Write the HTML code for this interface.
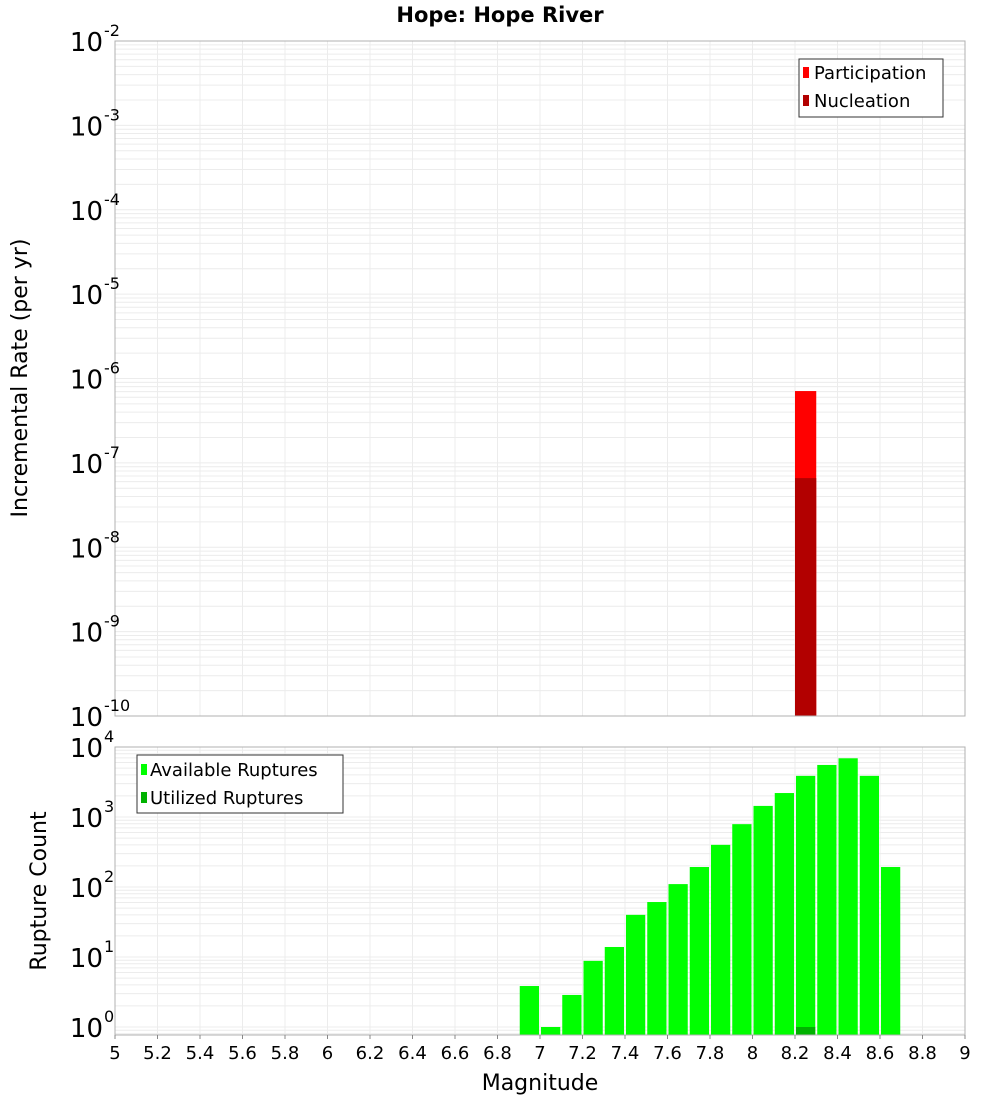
<!DOCTYPE html>
<html><head><meta charset="utf-8"><style>
body{margin:0;background:#fff;font-family:"DejaVu Sans","Liberation Sans",sans-serif}
svg text{font-family:"DejaVu Sans","Liberation Sans",sans-serif}
</style></head><body>
<svg id="c" width="1000" height="1100" xmlns="http://www.w3.org/2000/svg">
<text x="500" y="22" text-anchor="middle" font-size="21" font-weight="bold">Hope: Hope River</text>
<text transform="translate(27,378) rotate(-90)" text-anchor="middle" font-size="22">Incremental Rate (per yr)</text>
<text transform="translate(46,891) rotate(-90)" text-anchor="middle" font-size="22">Rupture Count</text>
<text x="540" y="1090" text-anchor="middle" font-size="22">Magnitude</text>
<g id="top"></g>
<g id="bot"></g>
</svg>
<script>
const topCenters=[8.25];
const participation=[7.1e-7];
const nucleation=[6.6e-8];
const botCenters=[6.95,7.05,7.15,7.25,7.35,7.45,7.55,7.65,7.75,7.85,7.95,8.05,8.15,8.25,8.35,8.45,8.55,8.65];
const available=[3.85,1.0,2.87,8.8,13.9,40,61,110,193,400,790,1440,2200,3870,5540,6900,3870,193];
const utilizedCenters=[8.25];
const utilized=[1.0];
const xTicks=[5,5.2,5.4,5.6,5.8,6,6.2,6.4,6.6,6.8,7,7.2,7.4,7.6,7.8,8,8.2,8.4,8.6,8.8,9];
const topExps=[-2,-3,-4,-5,-6,-7,-8,-9,-10];
const botExps=[4,3,2,1,0];

const NS="http://www.w3.org/2000/svg";
function mk(p,t,a){const e=document.createElementNS(NS,t);for(const k in a)e.setAttribute(k,a[k]);p.appendChild(e);return e;}
const X0=115,X1=965;
const xs=m=>X0+(m-5)/4*(X1-X0);
const T0=41,T1=716; const ty=v=>T0+(-2-Math.log10(v))/8*(T1-T0);
const B0=747,B1=1035,BDEC=70; const by=v=>1027-Math.log10(v)*BDEC;

function grid(g,y0,y1,decs,yf){
  for(const d of decs){for(let k=1;k<10;k++){const y=yf(k*Math.pow(10,d));if(y>=y0&&y<=y1){const l=mk(g,'line',{x1:X0,x2:X1,y1:y,y2:y,stroke:'#ececec','stroke-width':1});}}}
  for(const t of xTicks){const x=xs(t);const l=mk(g,'line',{x1:x,x2:x,y1:y0,y2:y1,stroke:'#ececec','stroke-width':1});}
}
function ylab(g,y,e,name){const t=mk(g,'text',{x:103,y:y+10,'text-anchor':'end','font-size':26});t.textContent='10';const s=mk(g,'text',{x:104,y:y-5,'font-size':16});s.textContent=String(e);}

const gt=document.getElementById('top');
grid(gt,T0,T1,[-10,-9,-8,-7,-6,-5,-4,-3,-2],ty);
topCenters.forEach((m,i)=>{
  const x=xs(m-0.05),w=xs(m+0.05)-x;
  const r=mk(gt,'rect',{x:x,y:ty(participation[i]),width:w,height:T1-ty(participation[i]),fill:'#ff0000'});
  
  const n=mk(gt,'rect',{x:x,y:ty(nucleation[i]),width:w,height:T1-ty(nucleation[i]),fill:'#b20000'});
  
});
mk(gt,'rect',{x:X0,y:T0,width:X1-X0,height:T1-T0,fill:'none',stroke:'#b0b0b0'});
topExps.forEach(e=>ylab(gt,ty(Math.pow(10,e)),e,'top-y-tick-label'));
let lg=mk(gt,'g',{});
mk(lg,'rect',{x:799,y:59,width:144,height:58,fill:'#fff',stroke:'#333'});
mk(lg,'rect',{x:803,y:67,width:6,height:11,fill:'#ff0000'});
mk(lg,'rect',{x:803,y:95,width:6,height:11,fill:'#b20000'});
let t1=mk(lg,'text',{x:814,y:79,'font-size':18});t1.textContent='Participation';
let t2=mk(lg,'text',{x:814,y:107,'font-size':18});t2.textContent='Nucleation';

const gb=document.getElementById('bot');
grid(gb,B0,B1,[-1,0,1,2,3],by);
botCenters.forEach((m,i)=>{
  const x=xs(m-0.05)+1,w=xs(m+0.05)-xs(m-0.05)-2;const y=by(available[i]);
  const r=mk(gb,'rect',{x:x,y:y,width:w,height:B1-y,fill:'#00ff00'});
  
});
utilizedCenters.forEach((m,i)=>{
  const x=xs(m-0.05)+1,w=xs(m+0.05)-xs(m-0.05)-2;const y=by(utilized[i]);
  const r=mk(gb,'rect',{x:x,y:y,width:w,height:B1-y,fill:'#00b200'});
  
});
mk(gb,'rect',{x:X0,y:B0,width:X1-X0,height:B1-B0,fill:'none',stroke:'#b0b0b0'});
botExps.forEach(e=>ylab(gb,by(Math.pow(10,e)),e,'bottom-y-tick-label'));
xTicks.forEach(t=>{const l=mk(gb,'text',{x:xs(t),y:1059,'text-anchor':'middle','font-size':18});l.textContent=String(t);
 mk(gb,'line',{x1:xs(t),x2:xs(t),y1:B1,y2:B1+4,stroke:'#888'});});
lg=mk(gb,'g',{});
mk(lg,'rect',{x:137,y:755,width:206,height:58,fill:'#fff',stroke:'#333'});
mk(lg,'rect',{x:141,y:764,width:6,height:11,fill:'#00ff00'});
mk(lg,'rect',{x:141,y:792,width:6,height:11,fill:'#00b200'});
t1=mk(lg,'text',{x:150,y:776,'font-size':18});t1.textContent='Available Ruptures';
t2=mk(lg,'text',{x:150,y:804,'font-size':18});t2.textContent='Utilized Ruptures';
</script>
</body></html>
